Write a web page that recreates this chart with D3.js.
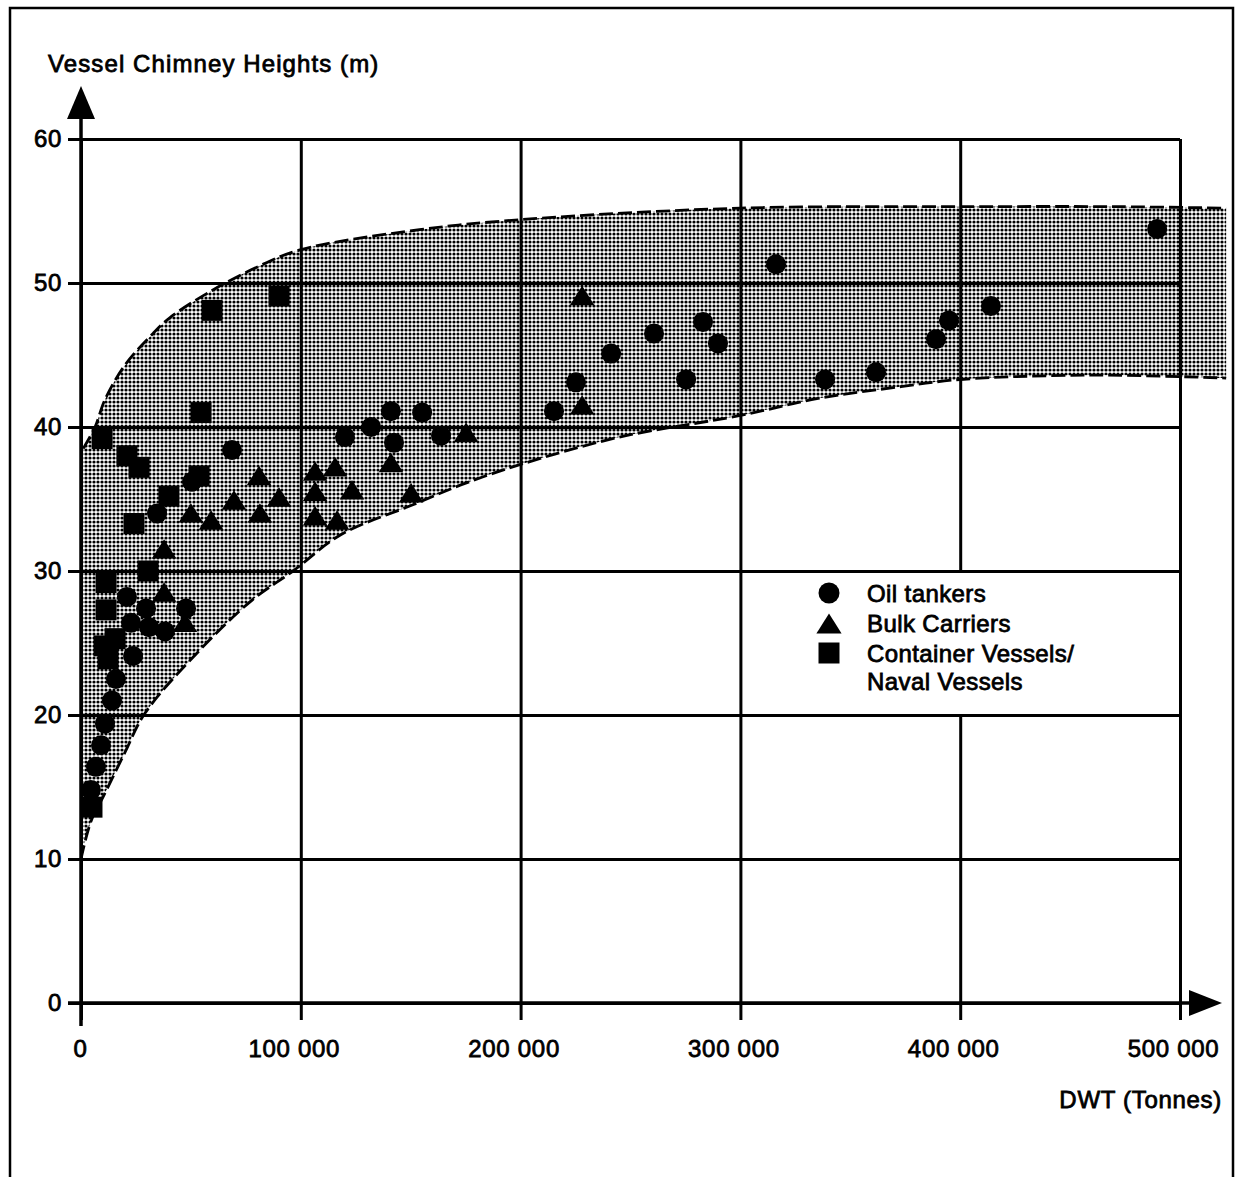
<!DOCTYPE html>
<html>
<head>
<meta charset="utf-8">
<script src="https://cdn.jsdelivr.net/npm/d3@7"></script>
<style>
  html, body { margin: 0; padding: 0; background: #fff; }
  svg { display: block; }
  text { font-family: "Liberation Sans", Arial, Helvetica, sans-serif; fill: #000; }
</style>
</head>
<body>
<svg id="chart" width="1240" height="1177"></svg>
<script>
// Axis ticks
const dwtTicks = [0, 100000, 200000, 300000, 400000, 500000];
const heightTicks = [0, 10, 20, 30, 40, 50, 60];

// Observed vessels: [DWT in tonnes, chimney height in m]
const oilTankers = [
  [4500, 14.8], [6800, 16.4], [9100, 17.9], [10900, 19.4], [14100, 21.0], [15900, 22.5],
  [23700, 24.1], [20900, 28.2], [22750, 26.4], [29600, 27.4], [30900, 26.1], [38200, 25.8],
  [47800, 27.4], [34600, 34.0], [50500, 36.2], [68700, 38.4], [120100, 39.3], [132000, 40.0],
  [141000, 41.1], [142400, 38.9], [155200, 41.0], [163800, 39.4], [215200, 41.1], [225200, 43.1],
  [241200, 45.1], [260700, 46.5], [275300, 43.3], [283000, 47.3], [289800, 45.8], [316200, 51.3],
  [338500, 43.3], [361700, 43.8], [389000, 46.1], [394900, 47.4], [414000, 48.4], [489600, 53.75]
];

const bulkCarriers = [
  [37800, 31.5], [37800, 28.5], [47300, 26.4], [50000, 34.0], [59200, 33.5], [69600, 34.9],
  [81000, 36.6], [81400, 34.0], [90100, 35.1], [106500, 36.9], [115600, 37.2], [106500, 35.5],
  [123300, 35.6], [106500, 33.8], [116500, 33.5], [141000, 37.5], [150200, 35.4], [175200, 39.6],
  [228000, 49.1], [228000, 41.5]
];

const containerNaval = [
  [9600, 39.2], [20900, 38.0], [26400, 37.2], [24100, 33.3], [30500, 30.0], [11400, 29.2],
  [11400, 27.3], [40000, 35.2], [53700, 36.6], [54600, 41.0], [59600, 48.1], [90100, 49.1],
  [5000, 13.6], [10500, 24.8], [15500, 25.3], [12300, 23.9]
];

// Envelope of the observed range
const bandUpper = [
  [1000, 38.5], [6400, 40], [10900, 41.9], [20000, 44.3], [32800, 46.5], [40500, 47.6],
  [58700, 49.4], [80000, 51.1], [99600, 52.3], [154000, 53.7], [200000, 54.4],
  [300000, 55.2], [400000, 55.3], [470000, 55.3], [521000, 55.2]
];
const bandLower = [
  [0, 10], [2000, 11.3], [5000, 12.8], [10000, 14.3], [20000, 17.4], [29000, 20.1],
  [54000, 24.5], [78000, 28], [96500, 30], [118000, 32.5], [151000, 34.6], [175000, 36.1],
  [200000, 37.4], [245000, 39.3], [300000, 40.8], [336000, 42], [373000, 42.8],
  [400000, 43.3], [460000, 43.6], [521000, 43.4]
];

const legendItems = ["Oil tankers", "Bulk Carriers", "Container Vessels/", "Naval Vessels"];

const svg = d3.select("#chart");
const x = d3.scaleLinear().domain([0, 500000]).range([81, 1180]);
const y = d3.scaleLinear().domain([0, 60]).range([1003, 139]);

const textStyle = sel => sel
  .attr("font-size", 24)
  .attr("letter-spacing", 0.7)
  .attr("stroke", "#000")
  .attr("stroke-width", 0.8)
  .attr("fill", "#000");

// Page frame
svg.append("path")
  .attr("d", "M10,1185 V8 H1233 V1185")
  .attr("fill", "none").attr("stroke", "#000").attr("stroke-width", 2.5);

// Halftone fill for the envelope
const defs = svg.append("defs");
const pat = defs.append("pattern")
  .attr("id", "halftone").attr("patternUnits", "userSpaceOnUse")
  .attr("width", 4).attr("height", 4);
pat.append("rect").attr("width", 4).attr("height", 4).attr("fill", "#fff");
pat.append("circle").attr("cx", 2).attr("cy", 2).attr("r", 1.6).attr("fill", "#000");

const lineGen = d3.line()
  .x(d => x(d[0])).y(d => y(d[1]))
  .curve(d3.curveCatmullRom.alpha(0.5));

const upperD = lineGen(bandUpper);
const lowerRevD = lineGen(bandLower.slice().reverse());
svg.append("path")
  .attr("d", upperD + "L" + lowerRevD.slice(1) + "Z")
  .attr("fill", "url(#halftone)");

// Grid: vertical lines (with DWT labels)
const gx = svg.append("g").attr("transform", "translate(0,1020)")
  .call(d3.axisBottom(x)
    .tickValues(dwtTicks)
    .tickSize(-(1020 - 139))
    .tickPadding(20)
    .tickFormat(d => d === 0 ? "0" : d3.format(",")(d).replace(/,/g, " ")));
gx.select(".domain").remove();
gx.selectAll(".tick line").attr("stroke", "#000").attr("stroke-width", 3);
gx.selectAll(".tick text").call(textStyle).attr("dx", d => d === 0 ? -1 : -7);
// The 400 000 line is interrupted behind the legend
const t400 = gx.selectAll(".tick").filter(d => d === 400000);
t400.select("line").attr("y1", 0).attr("y2", -(1020 - y(20)));
t400.append("line")
  .attr("y1", -(1020 - y(30))).attr("y2", -(1020 - 139))
  .attr("stroke", "#000").attr("stroke-width", 3);

// Grid: horizontal lines (with height labels)
const gy = svg.append("g").attr("transform", "translate(68,0)")
  .call(d3.axisLeft(y)
    .tickValues(heightTicks)
    .tickSize(-(1180 - 68))
    .tickPadding(6)
    .tickFormat(d3.format("d")));
gy.select(".domain").remove();
gy.selectAll(".tick line").attr("stroke", "#000").attr("stroke-width", 3);
gy.selectAll(".tick text").call(textStyle);

// Axes with arrowheads
svg.append("line")
  .attr("x1", x(0)).attr("x2", x(0)).attr("y1", 112).attr("y2", 1026)
  .attr("stroke", "#000").attr("stroke-width", 3.5);
svg.append("path")
  .attr("d", `M${x(0)},86 L${x(0) + 14},119 L${x(0) - 14},119 Z`)
  .attr("fill", "#000");
svg.append("line")
  .attr("x1", 68).attr("x2", 1196).attr("y1", y(0)).attr("y2", y(0))
  .attr("stroke", "#000").attr("stroke-width", 3.5);
svg.append("path")
  .attr("d", `M1222,${y(0)} L1189,${y(0) - 13} L1189,${y(0) + 13} Z`)
  .attr("fill", "#000");

// Dashed envelope boundaries
[bandUpper, bandLower].forEach(pts => {
  svg.append("path")
    .attr("d", lineGen(pts))
    .attr("fill", "none").attr("stroke", "#000")
    .attr("stroke-width", 2.8).attr("stroke-dasharray", "14 5");
});

// Marker shapes
const triangleWide = {
  draw(ctx, size) {
    const s = Math.sqrt(size);
    ctx.moveTo(0, -0.5 * s);
    ctx.lineTo(0.6 * s, 0.45 * s);
    ctx.lineTo(-0.6 * s, 0.45 * s);
    ctx.closePath();
  }
};
const circleSym = d3.symbol().type(d3.symbolCircle).size(Math.PI * 10 * 10);
const triSym = d3.symbol().type(triangleWide).size(420);
const squareSym = d3.symbol().type(d3.symbolSquare).size(441);

const plotSeries = (data, sym) => svg.append("g").selectAll("path")
  .data(data).join("path")
  .attr("transform", d => `translate(${x(d[0])},${y(d[1])})`)
  .attr("d", sym)
  .attr("fill", "#000");

plotSeries(containerNaval, squareSym);
plotSeries(bulkCarriers, triSym);
plotSeries(oilTankers, circleSym);

// Legend
const lg = svg.append("g");
lg.append("path").attr("transform", "translate(829,593)")
  .attr("d", d3.symbol().type(d3.symbolCircle).size(Math.PI * 10.5 * 10.5)()).attr("fill", "#000");
lg.append("path").attr("transform", "translate(829,624)")
  .attr("d", d3.symbol().type(triangleWide).size(441)()).attr("fill", "#000");
lg.append("path").attr("transform", "translate(829,653)")
  .attr("d", d3.symbol().type(d3.symbolSquare).size(441)()).attr("fill", "#000");
const legendBaselines = [602, 632, 662, 690];
lg.selectAll("text").data(legendItems).join("text")
  .attr("x", 867).attr("y", (d, i) => legendBaselines[i])
  .text(d => d).call(textStyle).attr("letter-spacing", 0.4);

// Axis titles
svg.append("text").attr("x", 48).attr("y", 72)
  .text("Vessel Chimney Heights (m)").call(textStyle).attr("letter-spacing", 1.1);
svg.append("text").attr("x", 1222).attr("y", 1108).attr("text-anchor", "end")
  .text("DWT (Tonnes)").call(textStyle);
</script>
</body>
</html>
